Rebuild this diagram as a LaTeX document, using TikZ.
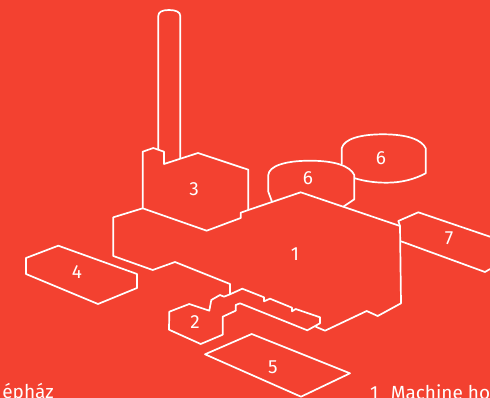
\documentclass[tikz,border=0pt]{standalone}
\usepackage{fontspec}
\setmainfont{Fira Sans}
\usepackage{xcolor}
\usetikzlibrary{positioning}
\definecolor{plotred}{HTML}{F34130}

\begin{document}
\begin{tikzpicture}[
      x=1pt, y=-1pt,
      outline/.style={draw=white, line width=1.7pt, line join=round},
      number/.style={font=\fontsize{19}{19}\selectfont, text=white, inner sep=0pt},
      caption/.style={font=\fontsize{19}{20}\selectfont, text=white, inner sep=0pt}
    ]
    \useasboundingbox (0,0) rectangle (490,398);
    \clip (0,0) rectangle (490,398);
    \fill[plotred] (0,0) rectangle (490,398);

    % chimney
    \draw[outline] (158.3,149) -- (158.3,16) .. controls (158.3,12) and (162,10) .. (169,10)
      .. controls (176,10) and (180.3,12) .. (180.3,16) -- (180.3,158);

    % building 3
    \draw[outline] (142.7,208.3) -- (142.7,151.7) -- (153.3,148) -- (164,151.7) -- (164,164)
      -- (198,153) -- (248.3,169.7) -- (248.3,210) -- (240.7,212.7) -- (240.7,218)
      -- (206.7,230.7) -- cycle;

    % building 1
    \draw[outline] (248.3,210) -- (300.7,192.3) -- (400,226) -- (401,303.3) -- (377.7,316)
      -- (366.7,311) -- (325,330.7) -- (315.7,326.7);
    \draw[outline] (142.7,208.3) -- (113.3,217.3) -- (113.3,256) -- (152.7,270) -- (175,262)
      -- (230,284) -- (230,294.3);

    % building 2
    \draw[outline] (169.3,311.7) -- (189.3,304) -- (209.3,310.7) -- (211.3,300) -- (220,295)
      -- (224,296.7) -- (230,294.3) -- (242.3,288.7) -- (264,297.3) -- (264,301.3) -- (270,298.7)
      -- (292,307.7) -- (292,311.3) -- (295.7,309) -- (320,317.3) -- (320,323.3) -- (307.3,330.3)
      -- (240,303.3) -- (235.7,305) -- (235.7,310.7) -- (222.7,316.7) -- (222.7,334.7)
      -- (200.7,344) -- (169,329.7) -- cycle;

    % cylinders 6
    \draw[outline] (272,201.7) -- (268.3,191.7) -- (268.3,175) .. controls (269,166) and (285,160.7) .. (310,160.7)
      .. controls (335,160.7) and (350,166) .. (354.3,175) -- (354.3,199.3) -- (343.3,206.7);
    \draw[outline] (341.7,164.3) -- (341.7,148.3) .. controls (344,139) and (360,134.3) .. (383,134.3)
      .. controls (408,134.3) and (422,140) .. (425.7,148.3) -- (425.7,173.3)
      .. controls (415,179) and (402,182.7) .. (386.7,182.7) .. controls (374,182.7) and (364,181) .. (355,178.3);

    % wing 7
    \draw[outline] (400,226) -- (398.3,221) -- (418.3,212.3) -- (490,236.7);
    \draw[outline] (401,241.3) -- (485,272) -- (490,269);

    % building 5
    \draw[outline] (205,354.3) -- (251.7,334) -- (350,373.3) -- (301,396.7) -- cycle;

    % building 4
    \draw[outline] (26,258) -- (58.3,245.7) -- (137,274) -- (137,288) -- (98,304) -- (26,274) -- cycle;

    \node[number] (n1) at (295,254) {1};
    \node[number] (n2) at (195,322) {2};
    \node[number] (n3) at (194,189) {3};
    \node[number] (n4) at (77,272) {4};
    \node[number] (n5) at (273,367) {5};
    \node[number] (n6a) at (308,178) {6};
    \node[number] (n6b) at (381,158) {6};
    \node[number] (n7) at (449,238) {7};

    \node[caption, anchor=base east] (capleft) at (54,398) {épház};
    \node[caption, anchor=base west] (capright) at (370,399) {1\hspace{0.65em}Machine house};
  \end{tikzpicture}
\end{document}
